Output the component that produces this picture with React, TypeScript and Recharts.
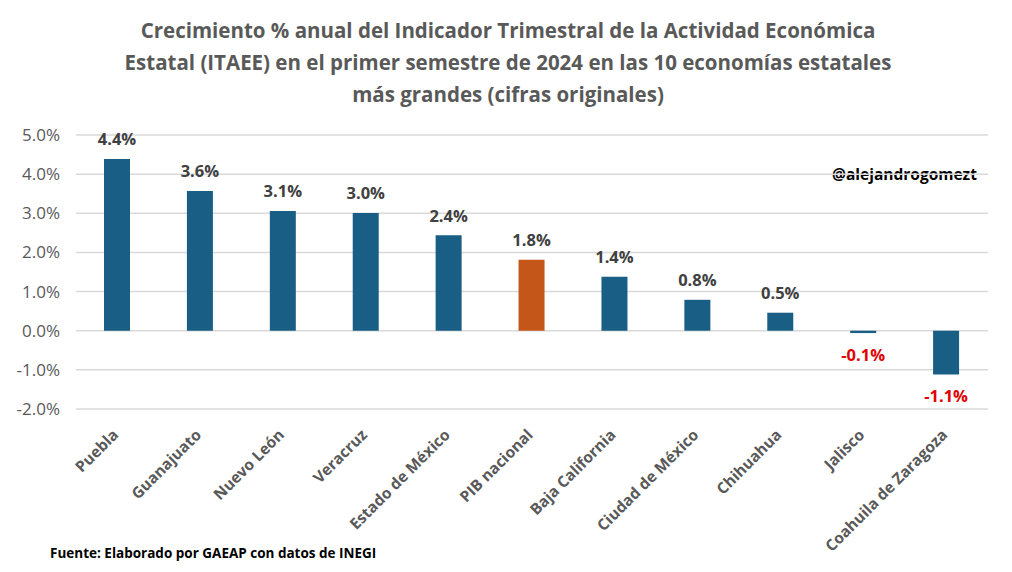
import React from 'react';
import { BarChart, Bar, XAxis, YAxis, CartesianGrid, Cell, LabelList } from 'recharts';

const states = [
  'Puebla',
  'Guanajuato',
  'Nuevo León',
  'Veracruz',
  'Estado de México',
  'PIB nacional',
  'Baja California',
  'Ciudad de México',
  'Chihuahua',
  'Jalisco',
  'Coahuila de Zaragoza',
];
const growth = [4.39, 3.57, 3.06, 3.01, 2.44, 1.81, 1.38, 0.79, 0.46, -0.06, -1.12];
const yTicks = [-2, -1, 0, 1, 2, 3, 4, 5];
const titleLines = [
  'Crecimiento % anual del Indicador Trimestral de la Actividad Económica',
  'Estatal (ITAEE) en el primer semestre de 2024 en las 10 economías estatales',
  'más grandes (cifras originales)',
];

const data = states.map((name, i) => ({ name, value: growth[i] }));

const font = '"Open Sans", sans-serif';
const blue = '#195e84';
const orange = '#c5561a';

function CategoryTick(props: any) {
  const { x, y, payload } = props;
  return (
    <g transform={`translate(${x - 2},${y + 15})`}>
      <text
        textAnchor="end"
        transform="rotate(-45)"
        dy="0.35em"
        fontFamily={font}
        fontWeight={700}
        fontSize={15.5}
        fill="#595959"
      >
        {payload.value}
      </text>
    </g>
  );
}

function ValueLabel(props: any) {
  const { x, y, width, height, value } = props;
  const neg = value < 0;
  const cx = x + width / 2;
  const top = Math.min(y, y + height);
  const bottom = Math.max(y, y + height);
  const cy = neg ? bottom + 21 : top - 20;
  return (
    <text
      x={cx}
      y={cy}
      textAnchor="middle"
      dominantBaseline="central"
      fontFamily={font}
      fontWeight={700}
      fontSize={16.5}
      fill={neg ? '#e00000' : '#404040'}
    >
      {`${value.toFixed(1)}%`}
    </text>
  );
}

export default function App() {
  return (
    <div
      style={{
        position: 'relative',
        width: 1012,
        height: 572,
        margin: -8,
        background: '#fff',
        boxSizing: 'border-box',
        border: '2px solid #d9d9d9',
        fontFamily: font,
        overflow: 'hidden',
      }}
    >
      <div
        style={{
          position: 'absolute',
          top: 12,
          left: 0,
          width: 1012,
          textAlign: 'center',
          fontSize: 20.5,
          fontWeight: 700,
          lineHeight: '32px',
          color: '#595959',
        }}
      >
        {titleLines.map((t) => (
          <div key={t}>{t}</div>
        ))}
      </div>
      <div
        style={{
          position: 'absolute',
          top: 161,
          left: 830,
          fontSize: 15.5,
          fontWeight: 700,
          color: '#000',
        }}
      >
        @alejandrogomezt
      </div>
      <div
        style={{
          position: 'absolute',
          top: 542,
          left: 48,
          fontSize: 13.5,
          fontWeight: 700,
          color: '#000',
        }}
      >
        Fuente: Elaborado por GAEAP con datos de INEGI
      </div>
      <div style={{ position: 'absolute', top: -2, left: -2 }}>
        <BarChart
          width={1012}
          height={572}
          data={data}
          margin={{ top: 135, right: 24, bottom: 43, left: 10 }}
        >
          <CartesianGrid vertical={false} stroke="#d9d9d9" strokeWidth={1.5} />
          <XAxis
            dataKey="name"
            interval={0}
            height={120}
            axisLine={false}
            tickLine={false}
            tick={<CategoryTick />}
          />
          <YAxis
            width={66}
            domain={[-2, 5]}
            ticks={yTicks}
            axisLine={false}
            tickLine={false}
            tickFormatter={(v: number) => `${v.toFixed(1)}%`}
            tick={{ fontFamily: font, fontSize: 17, fill: '#595959', dx: -8 }}
          />
          <Bar dataKey="value" isAnimationActive={false} barSize={26}>
            {data.map((d) => (
              <Cell key={d.name} fill={d.name === 'PIB nacional' ? orange : blue} />
            ))}
            <LabelList dataKey="value" content={<ValueLabel />} />
          </Bar>
        </BarChart>
      </div>
    </div>
  );
}
